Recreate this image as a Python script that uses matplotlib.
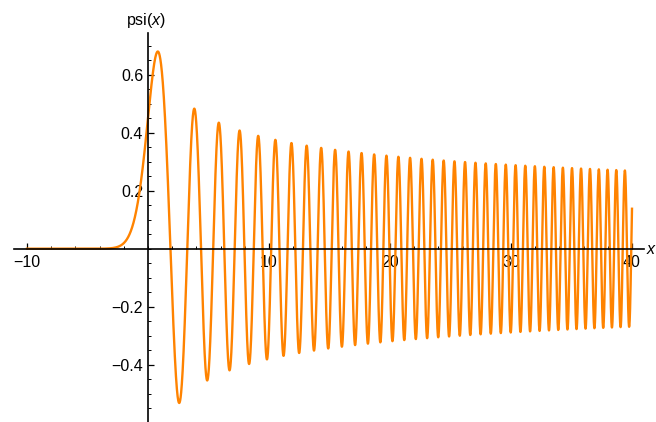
import numpy as np
import matplotlib.pyplot as plt
from matplotlib.ticker import FixedLocator

plt.rcParams['font.family'] = ['Liberation Sans', 'DejaVu Sans']
plt.rcParams['mathtext.fontset'] = 'custom'
plt.rcParams['mathtext.rm'] = 'Liberation Sans'
plt.rcParams['mathtext.it'] = 'Liberation Sans:italic'

# ---- values ----
x_start, x_end = -10.0, 40.0
peak_height = 0.68          # first maximum, near x = 0.85
x_ticks = [-10, 10, 20, 30, 40]
y_ticks = [-0.4, -0.2, 0.2, 0.4, 0.6]
y_tick_labels = ['\u22120.4', '\u22120.2', '0.2', '0.4', '0.6']
x_tick_labels = ['\u221210', '10', '20', '30', '40']
x_minor = np.arange(-10, 41, 2)
y_minor = np.arange(-0.55, 0.71, 0.05)

# psi'' = -2 x psi  (linear potential), integrated from the decaying side
def rhs(x, s):
    return np.array([s[1], -2.0 * x * s[0]])

h = 0.002
xs = np.arange(x_start, x_end + h / 2, h)
k = 2 ** (1 / 3)
z0 = -k * x_start
state = np.array([z0 ** -0.25, k * np.sqrt(z0) * z0 ** -0.25]) * 1e-12
psi = np.empty_like(xs)
for i, x in enumerate(xs):
    psi[i] = state[0]
    k1 = rhs(x, state)
    k2 = rhs(x + h / 2, state + h / 2 * k1)
    k3 = rhs(x + h / 2, state + h / 2 * k2)
    k4 = rhs(x + h, state + h * k3)
    state = state + h / 6 * (k1 + 2 * k2 + 2 * k3 + k4)
psi = psi / psi.max() * peak_height

fig = plt.figure(figsize=(6.56, 4.22), dpi=100)
ax = fig.add_axes([0, 0, 1, 1])
ax.plot(xs, psi, color='#ff8300', lw=1.7, solid_joinstyle='round')

# pixel mapping: x=0 at 148px, 12.1 px/unit ; y=0 at 248.7px from top, 290 px/unit
ax.set_xlim(-148 / 12.1, (656 - 148) / 12.1)
ax.set_ylim(-(422 - 248.7) / 290, 248.7 / 290)

for s in ['top', 'right']:
    ax.spines[s].set_visible(False)
ax.spines['left'].set_position(('data', 0))
ax.spines['bottom'].set_position(('data', 0))
ax.spines['bottom'].set_bounds(-11.07, 41.0)
ax.spines['left'].set_bounds(-0.6, 0.744)
for s in ['left', 'bottom']:
    ax.spines[s].set_linewidth(1.2)
    ax.spines[s].set_zorder(3)

ax.set_xticks(x_ticks)
ax.set_xticklabels(x_tick_labels)
ax.set_yticks(y_ticks)
ax.set_yticklabels(y_tick_labels)
ax.xaxis.set_minor_locator(FixedLocator(x_minor))
ax.yaxis.set_minor_locator(FixedLocator(y_minor))
ax.tick_params(which='major', direction='in', length=4, width=0.9, labelsize=11.5)
ax.tick_params(which='minor', direction='in', length=2.5, width=0.7)
ax.tick_params(axis='x', pad=4.5)
ax.tick_params(axis='y', pad=3.5)
ax.set_facecolor('white')

ax.text(146 / 656, 1 - 20 / 422, r'psi($x$)', transform=fig.transFigure,
        ha='center', va='center', fontsize=11.5)
ax.text(646 / 656, 1 - 249 / 422, r'$x$', transform=fig.transFigure,
        ha='left', va='center', fontsize=11.5)

fig.savefig('out.png', dpi=100, facecolor='white')
